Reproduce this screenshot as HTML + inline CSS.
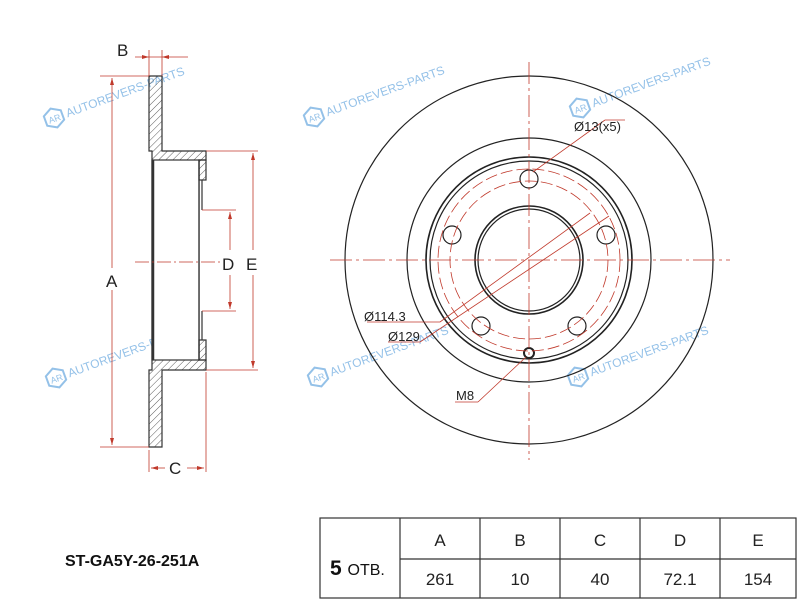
<!DOCTYPE html>
<html><head><style>body{margin:0;background:#fff}svg{display:block}</style></head><body>
<svg width="800" height="600" viewBox="0 0 800 600" xmlns="http://www.w3.org/2000/svg" font-family="Liberation Sans, Arial, sans-serif">
<defs>
<pattern id="h" width="5" height="5" patternUnits="userSpaceOnUse" patternTransform="rotate(45)">
<line x1="0" y1="0" x2="0" y2="5" stroke="#333" stroke-width="0.8"/></pattern>
<g id="wm"><g fill="none" stroke="#7ab2e3" stroke-width="2"><polygon points="0,-10 9,-5 9,5 0,10 -9,5 -9,-5"/></g><text x="-6" y="4" font-size="9" fill="#7ab2e3">AR</text><text x="13" y="4" font-size="12" fill="#7ab2e3">AUTOREVERS-PARTS</text></g>
</defs>
<g opacity="0.8">
<use href="#wm" transform="translate(54,118) rotate(-20)"/>
<use href="#wm" transform="translate(314,117) rotate(-20)"/>
<use href="#wm" transform="translate(580,108) rotate(-20)"/>
<use href="#wm" transform="translate(56,378) rotate(-20)"/>
<use href="#wm" transform="translate(318,377) rotate(-20)"/>
<use href="#wm" transform="translate(578,377) rotate(-20)"/>
</g>
<g stroke="#333" stroke-width="1.2">
<path d="M149,76 H162 V151 H206 V160 H199 V360 H206 V370 H162 V447 H149 V370 H152 V151 H149 Z" fill="url(#h)"/>
<rect x="152" y="160" width="47" height="200" fill="#fff"/>
<rect x="199" y="160" width="7" height="20" fill="url(#h)"/>
<rect x="199" y="340" width="7" height="20" fill="url(#h)"/>
<line x1="153" y1="160" x2="153" y2="360" stroke-width="2.5"/>
<line x1="199" y1="160" x2="199" y2="360"/>
<line x1="202" y1="180" x2="202" y2="210"/><line x1="202" y1="311" x2="202" y2="340"/>
</g>
<g stroke="#c0392b" stroke-width="0.8" fill="none">
<line x1="135" y1="57" x2="188" y2="57"/><line x1="149" y1="50" x2="149" y2="76"/><line x1="162" y1="50" x2="162" y2="76"/>
<line x1="100" y1="76" x2="149" y2="76"/><line x1="100" y1="447" x2="149" y2="447"/>
<line x1="112" y1="78" x2="112" y2="268"/><line x1="112" y1="290" x2="112" y2="445"/>
<line x1="206" y1="151" x2="258" y2="151"/><line x1="206" y1="370" x2="258" y2="370"/>
<line x1="253" y1="153" x2="253" y2="250"/><line x1="253" y1="275" x2="253" y2="368"/>
<line x1="202" y1="210" x2="236" y2="210"/><line x1="202" y1="311" x2="236" y2="311"/>
<line x1="230" y1="212" x2="230" y2="250"/><line x1="230" y1="275" x2="230" y2="309"/>
<line x1="149" y1="450" x2="149" y2="472"/><line x1="206" y1="372" x2="206" y2="472"/>
<line x1="151" y1="468" x2="165" y2="468"/><line x1="187" y1="468" x2="204" y2="468"/>
<line x1="135" y1="262" x2="220" y2="262" stroke-dasharray="14,3,2,3"/>
</g>
<g fill="#c0392b"><path d="M112,78 l-2,7 h4z M112,445 l-2,-7 h4z M253,153 l-2,7 h4z M253,368 l-2,-7 h4z M230,212 l-2,7 h4z M230,309 l-2,-7 h4z M151,468 l7,-2 v4z M204,468 l-7,-2 v4z M149,57 l-7,-2 v4z M162,57 l7,-2 v4z"/></g>
<g font-size="17" fill="#222"><text x="117" y="56">B</text><text x="106" y="287">A</text><text x="222" y="270">D</text><text x="246" y="270">E</text><text x="169" y="474">C</text></g>
<g fill="none" stroke="#222" stroke-width="1.2">
<circle cx="529" cy="260" r="184"/>
<circle cx="529" cy="260" r="122"/>
<circle cx="529" cy="260" r="103" stroke-width="1.6"/>
<circle cx="529" cy="260" r="99"/>
<circle cx="529" cy="260" r="54" stroke-width="1.6"/>
<circle cx="529" cy="260" r="51"/>
<circle cx="529" cy="179" r="9"/><circle cx="606" cy="235" r="9"/><circle cx="452" cy="235" r="9"/>
<circle cx="577" cy="326" r="9"/><circle cx="481" cy="326" r="9"/>
<circle cx="529" cy="353" r="5" stroke-width="2"/>
</g>
<g fill="none" stroke="#c0392b" stroke-width="0.8">
<circle cx="529" cy="260" r="91" stroke-dasharray="12,4"/>
<circle cx="529" cy="260" r="79" stroke-dasharray="12,4"/>
<line x1="330" y1="260" x2="730" y2="260" stroke-dasharray="22,4,3,4"/>
<line x1="529" y1="62" x2="529" y2="460" stroke-dasharray="22,4,3,4"/>
<line x1="605" y1="120" x2="625" y2="120"/><line x1="605" y1="120" x2="533" y2="172"/>
<line x1="367" y1="322" x2="440" y2="322"/><line x1="440" y1="322" x2="590" y2="213"/>
<line x1="388" y1="342" x2="420" y2="342"/><line x1="420" y1="342" x2="609" y2="216"/>
<line x1="455" y1="402" x2="478" y2="402"/><line x1="478" y1="402" x2="526" y2="357"/>
</g>
<g font-size="13" fill="#222"><text x="574" y="131">Ø13(x5)</text><text x="364" y="321">Ø114.3</text><text x="388" y="341">Ø129</text><text x="456" y="400">M8</text></g>
<text x="65" y="566" font-size="16" font-weight="bold" fill="#111">ST-GA5Y-26-251A</text>
<g stroke="#333" stroke-width="1.2" fill="none">
<rect x="320" y="518" width="476" height="80"/>
<line x1="400" y1="518" x2="400" y2="598"/><line x1="480" y1="518" x2="480" y2="598"/><line x1="560" y1="518" x2="560" y2="598"/><line x1="640" y1="518" x2="640" y2="598"/><line x1="720" y1="518" x2="720" y2="598"/>
<line x1="400" y1="559" x2="796" y2="559"/>
</g>
<text x="330" y="575" font-size="21" font-weight="bold" fill="#111">5 <tspan font-size="16" font-weight="normal">ОТВ.</tspan></text>
<g font-size="17" fill="#222" text-anchor="middle">
<text x="440" y="546">A</text><text x="520" y="546">B</text><text x="600" y="546">C</text><text x="680" y="546">D</text><text x="758" y="546">E</text>
<text x="440" y="585">261</text><text x="520" y="585">10</text><text x="600" y="585">40</text><text x="680" y="585">72.1</text><text x="758" y="585">154</text>
</g>
</svg>
</body></html>
